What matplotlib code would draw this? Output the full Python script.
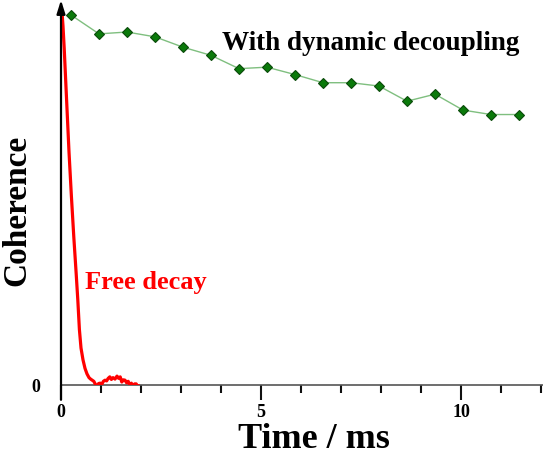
import matplotlib
matplotlib.use("Agg")
import matplotlib.pyplot as plt
from matplotlib.ticker import MultipleLocator

# Data
dd_time = [0.25, 0.95, 1.65, 2.35, 3.05, 3.75, 4.45, 5.15, 5.85, 6.55, 7.25,
           7.95, 8.65, 9.35, 10.05, 10.75, 11.45]
dd_coh = [1.000, 0.949, 0.954, 0.941, 0.913, 0.891, 0.855, 0.859, 0.839, 0.817,
          0.817, 0.808, 0.767, 0.786, 0.743, 0.731, 0.731]

free_time = [0.03, 0.05, 0.08, 0.11, 0.14, 0.20, 0.26, 0.32, 0.38, 0.42, 0.46,
             0.50, 0.55, 0.60, 0.65, 0.70, 0.74, 0.78, 0.82, 0.86, 0.90, 0.94,
             0.98, 1.02, 1.06, 1.10, 1.14, 1.18, 1.22, 1.26, 1.30, 1.35, 1.40,
             1.44, 1.48, 1.52, 1.56, 1.60, 1.64, 1.68, 1.72, 1.76, 1.80, 1.84,
             1.88, 1.92, 1.95]
free_coh = [1.00, 0.97, 0.91, 0.84, 0.77, 0.63, 0.51, 0.40, 0.30, 0.23, 0.15,
            0.10, 0.068, 0.045, 0.030, 0.020, 0.016, 0.013, 0.010, 0.002, -0.008, 0.004,
            0.005, 0.002, 0.010, 0.013, 0.011, 0.018, 0.022, 0.015, 0.020, 0.016, 0.024,
            0.018, 0.022, 0.008, 0.014, 0.013, 0.006, 0.010, 0.000, 0.005, -0.008, 0.003,
            0.003, -0.006, -0.003]

xticks_major = [0, 5, 10]

W, H = 543, 466
fig = plt.figure(figsize=(W / 100, H / 100), dpi=100)
x0, y0px, ytop = 61, 385, 5
ax = fig.add_axes([x0 / W, (H - y0px) / H, (W - x0) / W, (y0px - ytop) / H])
ax.set_xlim(0, (W - x0) / 40)
ax.set_ylim(0, (y0px - ytop) / 370)

serif = ["Liberation Serif", "DejaVu Serif"]

ax.plot(dd_time, dd_coh, color="#7fbf7f", lw=1.0, marker="D", ms=5.5,
        mfc="#0a7a0a", mec="#0a4a0a", mew=0.8, zorder=3)
ax.plot(free_time, free_coh, color="#ff0000", lw=2.3, zorder=4)

for s in ["top", "right"]:
    ax.spines[s].set_visible(False)
ax.spines["left"].set_visible(False)
ax.spines["bottom"].set_color("#555555")
ax.spines["bottom"].set_linewidth(1.2)

# y axis with arrow
ax.annotate("", xy=(0, (y0px - 0) / 370), xytext=(0, -0.04),
            xycoords="data", textcoords="data",
            arrowprops=dict(arrowstyle="-|>,head_length=0.8,head_width=0.25",
                            color="black", lw=1.6, shrinkA=0, shrinkB=0),
            annotation_clip=False, zorder=5)

ax.set_xticks(xticks_major)
ax.xaxis.set_minor_locator(MultipleLocator(1))
ax.tick_params(axis="x", which="major", direction="out", length=10.5, width=1.5,
               color="#111111", pad=3)
ax.tick_params(axis="x", which="minor", direction="out", length=6, width=1.5,
               color="#111111")
ax.set_xticklabels([str(v) for v in xticks_major], fontfamily=serif,
                   fontweight="bold", fontsize=13)
ax.set_yticks([0])
ax.set_yticklabels(["0"], fontfamily=serif, fontweight="bold", fontsize=13)
ax.tick_params(axis="y", length=0, pad=15)

fig.text(314 / W, 1 - 440 / H, "Time / ms", ha="center", va="center",
         fontfamily=serif, fontweight="bold", fontsize=26)
fig.text(17 / W, 1 - 210 / H, "Coherence", ha="center", va="center",
         rotation=90, fontfamily=serif, fontweight="bold", fontsize=24)
fig.text(222 / W, 1 - 44 / H, "With dynamic decoupling", ha="left", va="center",
         fontfamily=serif, fontweight="bold", fontsize=19.5, color="black")
fig.text(85 / W, 1 - 283 / H, "Free decay", ha="left", va="center",
         fontfamily=serif, fontweight="bold", fontsize=19, color="#ff0000")

fig.savefig("out.png", dpi=100)
